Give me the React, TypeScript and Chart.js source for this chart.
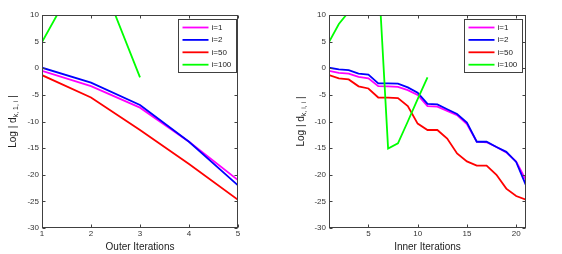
import React, { useEffect, useRef } from 'react';
import { Chart, registerables } from 'chart.js';

Chart.register(...registerables);

const FONT = "'Liberation Sans', Arial, Helvetica, sans-serif";

// ---- Data: left panel (outer iterations) ----
const outerIter = [1, 2, 3, 4, 5];
const outerI1 = [-0.5, -3.35, -7.4, -13.8, -21.0];
const outerI2 = [0.1, -2.7, -6.9, -13.8, -22.0];
const outerI50 = [-1.3, -5.5, -11.6, -18.0, -24.7];
const outerI100 = [4.9, 21.5, -1.7, null, null];
const outerXTicks = [1, 2, 3, 4, 5];

// ---- Data: right panel (inner iterations) ----
const innerIter = [1, 2, 3, 4, 5, 6, 7, 8, 9, 10, 11, 12, 13, 14, 15, 16, 17, 18, 19, 20, 21];
const innerI1 = [-0.5, -0.85, -1.0, -1.6, -1.9, -3.35, -3.4, -3.5, -4.1, -5.0, -7.1, -7.2, -8.0, -8.8, -10.5, -13.8, -13.9, -14.8, -15.8, -17.5, -21.0];
const innerI2 = [0.1, -0.2, -0.35, -1.0, -1.2, -2.85, -2.85, -2.9, -3.6, -4.6, -6.7, -6.8, -7.7, -8.6, -10.2, -13.8, -13.8, -14.8, -15.7, -17.6, -22.0];
const innerI50 = [-1.3, -1.9, -2.1, -3.4, -3.8, -5.5, -5.5, -5.6, -7.1, -10.4, -11.6, -11.6, -13.2, -16.0, -17.5, -18.3, -18.3, -20.0, -22.6, -24.0, -24.7];
const innerI100 = [4.9, 8.3, 10.6, 14, 17, 18.4, -15.1, -14.1, -10.0, -5.8, -1.7, null, null, null, null, null, null, null, null, null, null];
const innerXTicks = [5, 10, 15, 20];

const yTicks = [-30, -25, -20, -15, -10, -5, 0, 5, 10];
const seriesLabels = ['i=1', 'i=2', 'i=50', 'i=100'];
const seriesColors = ['#ff00ff', '#0000ff', '#ff0000', '#00ff00'];

const framePlugin = {
  id: 'matlabFrame',
  afterDatasetsDraw(chart: any, _args: any, opts: any) {
    const { ctx, chartArea: a } = chart;
    const xs = chart.scales.x;
    const ys = chart.scales.y;
    ctx.save();
    ctx.strokeStyle = '#404040';
    ctx.lineWidth = 1;
    const L = a.left + 0.5, R = a.right - 0.5, T = a.top + 0.5, B = a.bottom - 0.5;
    ctx.strokeRect(L, T, R - L, B - T);
    const tl = 3;
    ctx.beginPath();
    for (const t of xs.ticks) {
      const px = Math.round(xs.getPixelForValue(t.value)) + 0.5;
      ctx.moveTo(px, B); ctx.lineTo(px, B - tl);
      ctx.moveTo(px, T); ctx.lineTo(px, T + tl);
    }
    for (const t of ys.ticks) {
      const py = Math.round(ys.getPixelForValue(t.value)) + 0.5;
      ctx.moveTo(L, py); ctx.lineTo(L + tl, py);
      ctx.moveTo(R, py); ctx.lineTo(R - tl, py);
    }
    ctx.stroke();

    // legend
    const ds = chart.data.datasets;
    ctx.font = `8px ${FONT}`;
    const tw = Math.max(...ds.map((d: any) => ctx.measureText(d.label).width));
    const rowH = 12.4, lineLen = 26;
    const boxW = Math.round(4 + lineLen + 3 + tw + 5);
    const boxH = Math.round(16 + rowH * (ds.length - 1));
    const bx = Math.round(a.right - opts.legendGap - boxW) + 0.5;
    const by = a.top + 4 + 0.5;
    ctx.fillStyle = '#ffffff';
    ctx.fillRect(bx, by, boxW, boxH);
    ctx.strokeStyle = '#404040';
    ctx.strokeRect(bx, by, boxW, boxH);
    ds.forEach((d: any, i: number) => {
      const y = by + 8 + i * rowH;
      ctx.strokeStyle = d.borderColor;
      ctx.lineWidth = 1.8;
      ctx.beginPath();
      ctx.moveTo(bx + 4, y); ctx.lineTo(bx + 4 + lineLen, y);
      ctx.stroke();
      ctx.fillStyle = '#222';
      ctx.textAlign = 'left';
      ctx.textBaseline = 'middle';
      ctx.fillText(d.label, bx + 4 + lineLen + 3, y);
    });

    // y title with subscript
    const cy = (a.top + a.bottom) / 2;
    ctx.translate(opts.titleX, cy);
    ctx.rotate(-Math.PI / 2);
    const big = `10px ${FONT}`, small = `7px ${FONT}`;
    ctx.font = big; const w1 = ctx.measureText(opts.tMain).width; const w3 = ctx.measureText(opts.tTail).width;
    ctx.font = small; const w2 = ctx.measureText(opts.tSub).width;
    let x0 = -(w1 + w2 + w3) / 2;
    ctx.fillStyle = '#222';
    ctx.textAlign = 'left';
    ctx.textBaseline = 'middle';
    ctx.font = big; ctx.fillText(opts.tMain, x0, 0); x0 += w1;
    ctx.font = small; ctx.fillText(opts.tSub, x0, 3); x0 += w2;
    ctx.font = big; ctx.fillText(opts.tTail, x0, 0);
    ctx.restore();
  },
};

function buildConfig(p: {
  xs: number[]; series: (number | null)[][]; xMin: number; xMax: number; xTicks: number[];
  xTitle: string; yWidth: number; rightPad: number; legendGap: number; titleX: number; tSub: string;
}) {
  return {
    type: 'line' as const,
    data: {
      datasets: p.series.map((s, i) => ({
        label: seriesLabels[i],
        data: p.xs.map((x, j) => ({ x, y: s[j] })),
        borderColor: seriesColors[i],
        backgroundColor: seriesColors[i],
        borderWidth: 1.8,
        pointRadius: 0,
        tension: 0,
        fill: false,
        spanGaps: false,
        clip: 0,
        order: p.series.length - i,
      })),
    },
    options: {
      animation: false as const,
      responsive: false,
      maintainAspectRatio: false,
      layout: { padding: { top: 15, right: p.rightPad, left: 0, bottom: 0 } },
      plugins: {
        legend: { display: false },
        tooltip: { enabled: false },
        matlabFrame: { legendGap: p.legendGap, titleX: p.titleX, tMain: 'Log | d', tSub: p.tSub, tTail: ' |' },
      },
      scales: {
        x: {
          type: 'linear' as const,
          min: p.xMin,
          max: p.xMax,
          afterBuildTicks: (s: any) => { s.ticks = p.xTicks.map((v) => ({ value: v })); },
          afterFit: (s: any) => { s.height = 26; },
          grid: { display: false, drawTicks: false },
          border: { display: false },
          ticks: { font: { size: 8, family: FONT }, color: '#333', padding: 1, maxRotation: 0, autoSkip: false },
          title: { display: true, text: p.xTitle, font: { size: 10, family: FONT }, color: '#222', padding: { top: 0, bottom: 1 } },
        },
        y: {
          type: 'linear' as const,
          min: -30,
          max: 10,
          afterBuildTicks: (s: any) => { s.ticks = yTicks.map((v) => ({ value: v })); },
          afterFit: (s: any) => { s.width = p.yWidth; },
          grid: { display: false, drawTicks: false },
          border: { display: false },
          ticks: { font: { size: 8, family: FONT }, color: '#333', padding: 3, autoSkip: false },
        },
      },
    },
    plugins: [framePlugin],
  };
}

function Panel(props: { left: number; config: any }) {
  const ref = useRef<HTMLCanvasElement | null>(null);
  useEffect(() => {
    if (!ref.current) return;
    const chart = new Chart(ref.current, props.config);
    return () => chart.destroy();
  }, []);
  return (
    <canvas
      ref={ref}
      width={281}
      height={254}
      style={{ position: 'absolute', left: props.left, top: 0, width: 281, height: 254, display: 'block' }}
    />
  );
}

export default function App() {
  const leftCfg = buildConfig({
    xs: outerIter, series: [outerI1, outerI2, outerI50, outerI100], xMin: 1, xMax: 5, xTicks: outerXTicks,
    xTitle: 'Outer Iterations', yWidth: 42, rightPad: 43, legendGap: 2, titleX: 13, tSub: 'k, 1, i',
  });
  const rightCfg = buildConfig({
    xs: innerIter, series: [innerI1, innerI2, innerI50, innerI100], xMin: 1, xMax: 21, xTicks: innerXTicks,
    xTitle: 'Inner Iterations', yWidth: 48, rightPad: 36, legendGap: 4, titleX: 20, tSub: 'k, i, i',
  });
  return (
    <div style={{ position: 'absolute', left: 0, top: 0, width: 562, height: 254, background: '#fff', overflow: 'hidden' }}>
      <Panel left={0} config={leftCfg} />
      <Panel left={281} config={rightCfg} />
    </div>
  );
}
